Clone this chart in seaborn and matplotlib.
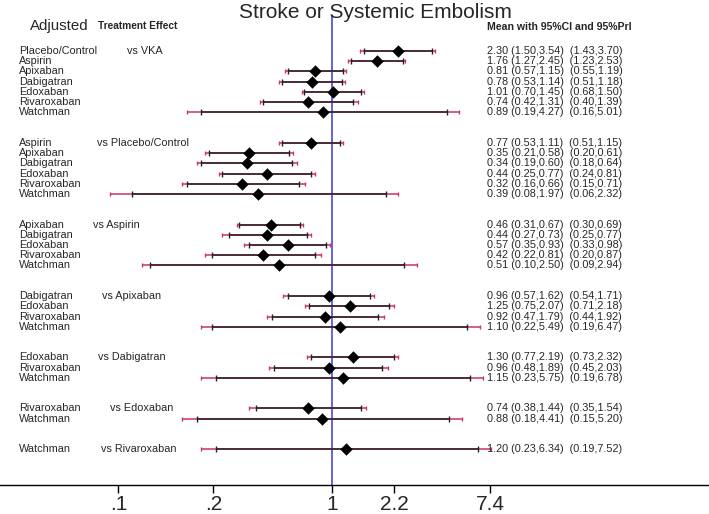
import numpy as np
import seaborn as sns
import matplotlib.pyplot as plt
from matplotlib.transforms import blended_transform_factory

# comparison groups: comparator and the treatments compared against it
comparators = ["VKA", "Placebo/Control", "Aspirin", "Apixaban",
               "Dabigatran", "Edoxaban", "Rivaroxaban"]
treatments = [
    ["Placebo/Control", "Aspirin", "Apixaban", "Dabigatran", "Edoxaban", "Rivaroxaban", "Watchman"],
    ["Aspirin", "Apixaban", "Dabigatran", "Edoxaban", "Rivaroxaban", "Watchman"],
    ["Apixaban", "Dabigatran", "Edoxaban", "Rivaroxaban", "Watchman"],
    ["Dabigatran", "Edoxaban", "Rivaroxaban", "Watchman"],
    ["Edoxaban", "Rivaroxaban", "Watchman"],
    ["Rivaroxaban", "Watchman"],
    ["Watchman"],
]
mean = [2.30, 1.76, 0.81, 0.78, 1.01, 0.74, 0.89,
        0.77, 0.35, 0.34, 0.44, 0.32, 0.39,
        0.46, 0.44, 0.57, 0.42, 0.51,
        0.96, 1.25, 0.92, 1.10,
        1.30, 0.96, 1.15,
        0.74, 0.88,
        1.20]
ci_lo = [1.50, 1.27, 0.57, 0.53, 0.70, 0.42, 0.19,
         0.53, 0.21, 0.19, 0.25, 0.16, 0.08,
         0.31, 0.27, 0.35, 0.22, 0.10,
         0.57, 0.75, 0.47, 0.22,
         0.77, 0.48, 0.23,
         0.38, 0.18,
         0.23]
ci_hi = [3.54, 2.45, 1.15, 1.14, 1.45, 1.31, 4.27,
         1.11, 0.58, 0.60, 0.77, 0.66, 1.97,
         0.67, 0.73, 0.93, 0.81, 2.50,
         1.62, 2.07, 1.79, 5.49,
         2.19, 1.89, 5.75,
         1.44, 4.41,
         6.34]
pri_lo = [1.43, 1.23, 0.55, 0.51, 0.68, 0.40, 0.16,
          0.51, 0.20, 0.18, 0.24, 0.15, 0.06,
          0.30, 0.25, 0.33, 0.20, 0.09,
          0.54, 0.71, 0.44, 0.19,
          0.73, 0.45, 0.19,
          0.35, 0.15,
          0.19]
pri_hi = [3.70, 2.53, 1.19, 1.18, 1.50, 1.39, 5.01,
          1.15, 0.61, 0.64, 0.81, 0.71, 2.32,
          0.69, 0.77, 0.98, 0.87, 2.94,
          1.71, 2.18, 1.92, 6.47,
          2.32, 2.03, 6.78,
          1.54, 5.20,
          7.52]
tick_vals = [0.067, 0.223, 1, 2.2, 7.4]
tick_labels = [".1", ".2", "1", "2.2", "7.4"]

# layout (pixels in a 709x514 figure)
W, H = 709, 514
comp_x = [127, 97, 93, 102, 98, 110, 101]
red = "#cc3366"
font = "Liberation Sans"

sns.set_style("white")
plt.rcParams["font.family"] = [font, "DejaVu Sans"]

fig = plt.figure(figsize=(W / 100, H / 100), dpi=100)
ax = fig.add_axes([0, 29 / H, 1, (485 - 16) / H])

# row positions: groups separated by two blank rows
rows, labels, first_rows = [], [], []
r = 0
for g in treatments:
    first_rows.append(r)
    for t in g:
        rows.append(r)
        labels.append(t)
        r += 1
    r += 2
rows = np.array(rows)

# prediction interval (red) under confidence interval (black)
ax.hlines(rows, pri_lo, pri_hi, color=red, lw=1.1, zorder=2)
ax.hlines(rows, ci_lo, ci_hi, color="#222222", lw=1.1, zorder=3)
ax.scatter(pri_lo + pri_hi, np.concatenate([rows, rows]), marker="|",
           s=12, color=red, linewidths=1, zorder=3)
ax.scatter(ci_lo + ci_hi, np.concatenate([rows, rows]), marker="|",
           s=18, color="#222222", linewidths=1, zorder=4)
sns.scatterplot(x=mean, y=rows, marker="D", s=36, color="black",
                edgecolor="black", linewidth=0.3, zorder=5, ax=ax, legend=False)
ax.axvline(1, color="#4a4ad6", lw=1.2, zorder=1)

ax.set_xscale("log")
ax.set_xlim(np.exp(-332 / 79), np.exp((W - 332) / 79))
ax.set_ylim(42.5, -3.43)
ax.set_xticks(tick_vals)
ax.set_xticklabels(tick_labels)
ax.minorticks_off()
ax.set_yticks([])
ax.set_xlabel("")
ax.set_ylabel("")
ax.tick_params(axis="x", direction="out", length=6, width=1, color="black",
               labelsize=15, pad=1, bottom=True)
for s in ["top", "left", "right"]:
    ax.spines[s].set_visible(False)
ax.spines["bottom"].set_color("black")
ax.spines["bottom"].set_linewidth(1)

tr = blended_transform_factory(fig.transFigure, ax.transData)
for y, lab, m, a, b, c, d in zip(rows, labels, mean, ci_lo, ci_hi, pri_lo, pri_hi):
    ax.text(19 / W, y, lab, transform=tr, fontsize=7.8, va="center", ha="left")
    ax.text(487 / W, y, f"{m:.2f} ({a:.2f},{b:.2f})  ({c:.2f},{d:.2f})",
            transform=tr, fontsize=7.8, va="center", ha="left")
for y, comp, cx in zip(first_rows, comparators, comp_x):
    ax.text(cx / W, y, "vs " + comp, transform=tr, fontsize=7.8, va="center", ha="left")

fig.text(30 / W, 1 - 26 / H, "Adjusted", fontsize=10.8, va="center", ha="left")
fig.text(98 / W, 1 - 26 / H, "Treatment Effect", fontsize=7.3, fontweight="bold",
         va="center", ha="left")
fig.text(487 / W, 1 - 27 / H, "Mean with 95%CI and 95%PrI", fontsize=7.6,
         fontweight="bold", va="center", ha="left")
fig.text(375 / W, 1 - 12 / H, "Stroke or Systemic Embolism", fontsize=15,
         va="center", ha="center")

fig.savefig("out.png", dpi=100)
